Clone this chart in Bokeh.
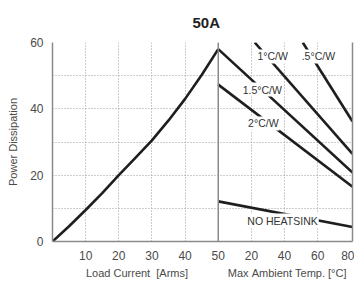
from bokeh.plotting import figure
from bokeh.models import Range1d, FixedTicker, LinearAxis, Span, ColumnDataSource
from bokeh.core.properties import value
from bokeh.embed import file_html
from bokeh.resources import INLINE

# ---- data ----
load_current = [0, 5, 10, 15, 20, 25, 30, 35, 40, 45, 50]
power_diss = [0, 4.6, 9.5, 14.6, 20, 25.2, 30.5, 36.5, 43, 50.2, 58]

# derating lines: (ambient temp [°C], power [W])
t_05 = [51, 81];  p_05 = [60, 36.2]
t_10 = [22, 81];  p_10 = [60, 26.4]
t_15 = [0, 81];   p_15 = [58, 20.8]
t_20 = [0, 81];   p_20 = [47.3, 16.5]
t_nh = [0, 81];   p_nh = [12.1, 4.4]

label_text = ["1°C/W", ".5°C/W", "1.5°C/W", "2°C/W", "NO HEATSINK"]
label_temp = [32.8, 60.4, 26.6, 27.2, 38.8]
label_pow = [55.8, 55.8, 45.8, 35.6, 6.3]

x_ticks = [10, 20, 30, 40, 50, 60, 70, 80, 90]
x_tick_labels = ["10", "20", "30", "40", "50", "20", "40", "60", "80"]
y_ticks = [0, 20, 40, 60]
grid_x = [10, 20, 30, 40, 60, 70, 80]
grid_y = [10, 20, 30, 40, 50, 60]

x_title_left = "Load Current  [Arms]"
x_title_right = "Max Ambient Temp. [°C]"

SPLIT = 50  # load current at which the temperature scale starts


def tx(temps):
    return [SPLIT + t / 2.0 for t in temps]


FONT = "Liberation Sans"
NB = "\u00a0"

p = figure(frame_width=300, frame_height=199,
           x_range=Range1d(0, 90.5), y_range=Range1d(0, 60),
           output_backend="svg", toolbar_location=None,
           min_border_left=40, min_border_right=2,
           min_border_top=20, min_border_bottom=40,
           title="50A")
p.styles = {"margin-left": "4px"}
p.outline_line_color = None
p.background_fill_color = "white"

p.title.align = "left"
p.title.text_font = FONT
p.title.text_font_size = "15px"
p.title.text_font_style = "bold"
p.title.text_color = "#222222"
p.title.standoff = 23
p.title.offset = 140

# axes
for ax in (p.xaxis[0], p.yaxis[0]):
    ax.axis_line_color = "#8a8a8a"
    ax.axis_line_width = 1.5
    ax.major_tick_line_color = None
    ax.major_tick_out = 0
    ax.major_tick_in = 0
    ax.minor_tick_line_color = None
    ax.minor_tick_out = 0
    ax.major_label_text_font = FONT
    ax.major_label_text_font_size = "12px"
    ax.major_label_text_color = "#4a4a4a"

p.xaxis.ticker = FixedTicker(ticks=x_ticks)
p.xaxis.major_label_overrides = {k: v for k, v in zip(x_ticks, x_tick_labels)}
p.xaxis.major_label_standoff = 9
p.xaxis.axis_label = NB * 9 + x_title_left.replace(" ", NB) + NB * 13 + x_title_right.replace(" ", NB)
p.xaxis.axis_label_text_font = FONT
p.xaxis.axis_label_text_font_size = "11px"
p.xaxis.axis_label_text_font_style = "normal"
p.xaxis.axis_label_text_color = "#4a4a4a"
p.xaxis.axis_label_standoff = 4

p.yaxis.ticker = FixedTicker(ticks=y_ticks)
p.yaxis.major_label_standoff = 9
p.yaxis.axis_label = "Power Dissipation"
p.yaxis.axis_label_text_font = FONT
p.yaxis.axis_label_text_font_size = "11px"
p.yaxis.axis_label_text_font_style = "normal"
p.yaxis.axis_label_text_color = "#4a4a4a"
p.yaxis.axis_label_standoff = 8

# right border line
rax = LinearAxis(ticker=FixedTicker(ticks=[]))
rax.axis_line_color = "#8a8a8a"
rax.axis_line_width = 1.5
rax.major_tick_line_color = None
rax.major_tick_out = 0
rax.minor_tick_line_color = None
rax.minor_tick_out = 0
rax.major_label_standoff = 0
p.add_layout(rax, "right")

# dotted grids
p.xgrid.ticker = FixedTicker(ticks=grid_x)
p.ygrid.ticker = FixedTicker(ticks=grid_y)
p.xgrid.grid_line_color = "#9a9a9a"
p.ygrid.grid_line_color = "#9a9a9a"
p.xgrid.grid_line_dash = "1 2"
p.ygrid.grid_line_dash = "1 2"
p.xgrid.grid_line_width = 1
p.ygrid.grid_line_width = 1

p.add_layout(Span(location=SPLIT, dimension="height",
                  line_color="#8a8a8a", line_width=1.5))

LC = "#1e1e1e"
LW = 2.6
p.line(load_current, power_diss, line_color=LC, line_width=LW)
for tt, pp in ((t_05, p_05), (t_10, p_10), (t_15, p_15), (t_20, p_20), (t_nh, p_nh)):
    p.line(tx(tt), pp, line_color=LC, line_width=LW)

src = ColumnDataSource(dict(x=tx(label_temp), y=label_pow, t=label_text))
p.text(x="x", y="y", text="t", source=src,
       text_font=value(FONT), text_font_size=value("10.5px"),
       text_color="#333333", text_align="center", text_baseline="middle",
       background_fill_color="white", padding=1)

open("out.html", "w").write(file_html(p, INLINE))
